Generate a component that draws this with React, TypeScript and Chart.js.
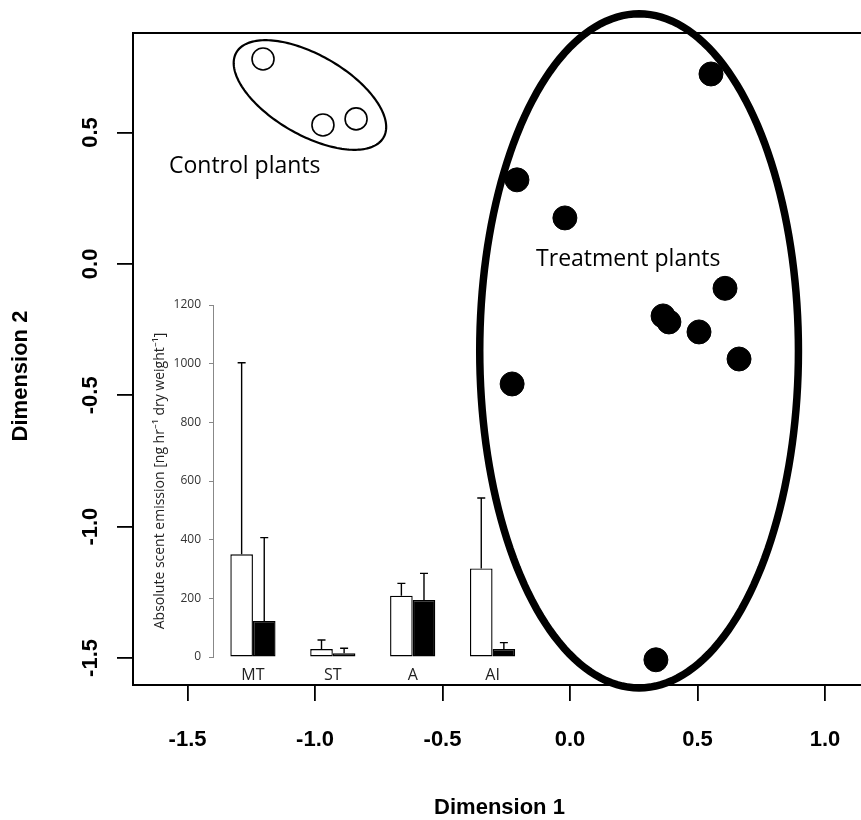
import React, { useEffect, useRef } from 'react';
import { Chart, registerables } from 'chart.js';

Chart.register(...registerables);

// ---------- NMDS scatter data ----------
const controlX = [-1.204, -0.969, -0.839];
const controlY = [0.78, 0.529, 0.552];
const treatX = [0.553, -0.208, -0.02, 0.608, 0.365, 0.388, 0.506, 0.663, -0.227, 0.337];
const treatY = [0.723, 0.32, 0.175, -0.093, -0.198, -0.221, -0.259, -0.362, -0.457, -1.507];

const xTicks = [-1.5, -1.0, -0.5, 0.0, 0.5, 1.0];
const yTicks = [-1.5, -1.0, -0.5, 0.0, 0.5];
const xRange = [-1.714, 1.161];
const yRange = [-1.603, 0.879];
const xTitle = 'Dimension 1';
const yTitle = 'Dimension 2';

// group annotations (data units)
const groupLabels = ['Control plants', 'Treatment plants'];
const groupLabelX = [-1.573, -0.133];
const groupLabelY = [0.345, -0.009];

// group ellipses: centre and two conjugate semi-axis vectors (data units)
const ellipseCx = [-1.02, 0.271];
const ellipseCy = [0.643, -0.331];
const ellipseUx = [0.2886, 0.625];
const ellipseUy = [-0.1618, 0];
const ellipseVx = [-0.0784, 0];
const ellipseVy = [-0.1317, 1.283];

// ---------- inset bar chart data ----------
const scentCategories = ['MT', 'ST', 'A', 'AI'];
const controlMean = [350, 27, 209, 302];
const controlUpper = [1003, 58, 251, 542];
const treatMean = [123, 13, 194, 27];
const treatUpper = [407, 30, 285, 49];
const scentMax = 1200;
const scentStep = 200;
const scentTitle = 'Absolute scent emission [ng hr\u207B\u00B9 dry weight\u207B\u00B9]';

const BOLD = { family: 'Liberation Sans', size: 22, weight: 'bold' as const };

const mainPlugin = {
  id: 'mainDecor',
  afterDatasetsDraw(chart: any) {
    const { ctx, chartArea, scales } = chart;
    const xs = scales.x;
    const ys = scales.y;
    ctx.save();
    // frame
    ctx.strokeStyle = '#000';
    ctx.lineWidth = 2;
    ctx.strokeRect(chartArea.left, chartArea.top, chartArea.right - chartArea.left, chartArea.bottom - chartArea.top);
    // ellipses
    const widths = [2.2, 7.5];
    for (let e = 0; e < ellipseCx.length; e++) {
      ctx.beginPath();
      const n = 180;
      for (let k = 0; k <= n; k++) {
        const t = (k / n) * Math.PI * 2;
        const dx = ellipseCx[e] + ellipseUx[e] * Math.cos(t) + ellipseVx[e] * Math.sin(t);
        const dy = ellipseCy[e] + ellipseUy[e] * Math.cos(t) + ellipseVy[e] * Math.sin(t);
        const px = xs.getPixelForValue(dx);
        const py = ys.getPixelForValue(dy);
        if (k === 0) ctx.moveTo(px, py);
        else ctx.lineTo(px, py);
      }
      ctx.closePath();
      ctx.lineWidth = widths[e];
      ctx.strokeStyle = '#000';
      ctx.stroke();
    }
    // group labels
    ctx.fillStyle = '#000';
    ctx.font = '23px "Open Sans"';
    ctx.textAlign = 'left';
    ctx.textBaseline = 'alphabetic';
    for (let i = 0; i < groupLabels.length; i++) {
      ctx.fillText(groupLabels[i], xs.getPixelForValue(groupLabelX[i]), ys.getPixelForValue(groupLabelY[i]));
    }
    // y tick labels (rotated, R style)
    ctx.font = 'bold 22px "Liberation Sans"';
    ctx.textAlign = 'center';
    for (const v of yTicks) {
      const py = ys.getPixelForValue(v);
      ctx.save();
      ctx.translate(chartArea.left - 36, py);
      ctx.rotate(-Math.PI / 2);
      ctx.fillText(v.toFixed(1), 0, 0);
      ctx.restore();
    }
    // y title
    ctx.save();
    ctx.translate(27, (chartArea.top + chartArea.bottom) / 2 + 17);
    ctx.rotate(-Math.PI / 2);
    ctx.fillText(yTitle, 0, 0);
    ctx.restore();
    ctx.restore();
  },
};

const errorBarPlugin = {
  id: 'errorBars',
  afterDatasetsDraw(chart: any) {
    const { ctx, scales } = chart;
    const uppers = [controlUpper, treatUpper];
    ctx.save();
    ctx.strokeStyle = '#000';
    ctx.lineWidth = 1.4;
    chart.data.datasets.forEach((_: any, i: number) => {
      const meta = chart.getDatasetMeta(i);
      meta.data.forEach((el: any, j: number) => {
        const yTop = el.y;
        const yErr = scales.y.getPixelForValue(uppers[i][j]);
        ctx.beginPath();
        ctx.moveTo(el.x, yTop);
        ctx.lineTo(el.x, yErr);
        ctx.moveTo(el.x - 4, yErr);
        ctx.lineTo(el.x + 4, yErr);
        ctx.stroke();
      });
    });
    ctx.restore();
  },
};

function MainChart() {
  const ref = useRef<HTMLCanvasElement>(null);
  useEffect(() => {
    if (!ref.current) return;
    const chart = new Chart(ref.current, {
      type: 'scatter',
      data: {
        datasets: [
          {
            label: 'Control plants',
            data: controlX.map((x, i) => ({ x, y: controlY[i] })),
            pointRadius: 11,
            pointHoverRadius: 11,
            pointBackgroundColor: '#fff',
            pointBorderColor: '#000',
            pointBorderWidth: 1.6,
          },
          {
            label: 'Treatment plants',
            data: treatX.map((x, i) => ({ x, y: treatY[i] })),
            pointRadius: 12,
            pointHoverRadius: 12,
            pointBackgroundColor: '#000',
            pointBorderColor: '#000',
            pointBorderWidth: 1,
          },
        ],
      },
      options: {
        animation: false,
        responsive: false,
        events: [],
        layout: { autoPadding: false, padding: { top: 33, right: 4, left: 0, bottom: 0 } },
        plugins: { legend: { display: false }, tooltip: { enabled: false } },
        scales: {
          x: {
            type: 'linear',
            min: xRange[0],
            max: xRange[1],
            afterBuildTicks: (s: any) => {
              s.ticks = xTicks.map((v) => ({ value: v }));
            },
            afterFit: (s: any) => {
              s.height = 137;
              s.paddingLeft = 0;
              s.paddingRight = 0;
            },
            grid: { drawOnChartArea: false, drawTicks: true, tickLength: 16, color: '#000', lineWidth: 1.8 },
            border: { display: false },
            ticks: {
              font: BOLD,
              color: '#000',
              padding: 26,
              maxRotation: 0,
              autoSkip: false,
              callback: (v: any) => Number(v).toFixed(1),
            },
            title: { display: true, text: xTitle, font: BOLD, color: '#000', padding: { top: 0, bottom: 1 } },
          },
          y: {
            type: 'linear',
            min: yRange[0],
            max: yRange[1],
            afterBuildTicks: (s: any) => {
              s.ticks = yTicks.map((v) => ({ value: v }));
            },
            afterFit: (s: any) => {
              s.width = 133;
              s.paddingTop = 0;
              s.paddingBottom = 0;
            },
            grid: { drawOnChartArea: false, drawTicks: true, tickLength: 16, color: '#000', lineWidth: 1.8 },
            border: { display: false },
            ticks: { display: false },
            title: { display: false },
          },
        },
      },
      plugins: [mainPlugin],
    } as any);
    return () => chart.destroy();
  }, []);
  return <canvas ref={ref} width={870} height={822} style={{ display: 'block' }} />;
}

function InsetChart() {
  const ref = useRef<HTMLCanvasElement>(null);
  useEffect(() => {
    if (!ref.current) return;
    const chart = new Chart(ref.current, {
      type: 'bar',
      data: {
        labels: scentCategories,
        datasets: [
          {
            label: 'Control',
            data: controlMean,
            backgroundColor: '#fff',
            borderColor: '#000',
            borderWidth: 1.4,
            borderSkipped: false,
          },
          {
            label: 'Treatment',
            data: treatMean,
            backgroundColor: '#000',
            borderColor: '#000',
            borderWidth: 1.4,
            borderSkipped: false,
          },
        ],
      },
      options: {
        animation: false,
        responsive: false,
        events: [],
        layout: { autoPadding: false, padding: { top: 15, right: 7.5, left: 0, bottom: 0 } },
        plugins: { legend: { display: false }, tooltip: { enabled: false } },
        datasets: { bar: { categoryPercentage: 0.566, barPercentage: 1 } },
        scales: {
          x: {
            afterFit: (s: any) => {
              s.height = 33;
              s.paddingLeft = 0;
              s.paddingRight = 0;
            },
            grid: { display: false, drawTicks: false, tickLength: 0 },
            border: { display: false },
            ticks: { font: { family: 'Open Sans', size: 16 }, color: '#222', padding: 9 },
          },
          y: {
            min: 0,
            max: scentMax,
            afterFit: (s: any) => {
              s.width = 73;
              s.paddingTop = 0;
              s.paddingBottom = 0;
            },
            ticks: {
              stepSize: scentStep,
              font: { family: 'Open Sans', size: 12 },
              color: '#333',
              padding: 8,
              callback: (v: any) => String(v),
            },
            grid: { drawOnChartArea: false, drawTicks: true, tickLength: 4, color: '#888', lineWidth: 1 },
            border: { display: true, color: '#888', width: 1 },
            title: {
              display: true,
              text: scentTitle,
              font: { family: 'Open Sans', size: 14 },
              color: '#222',
              padding: { top: 12, bottom: 0 },
            },
          },
        },
      },
      plugins: [errorBarPlugin],
    } as any);
    return () => chart.destroy();
  }, []);
  return <canvas ref={ref} width={400} height={400} style={{ display: 'block' }} />;
}

export default function App() {
  return (
    <div
      style={{
        position: 'absolute',
        left: 0,
        top: 0,
        width: 861,
        height: 820,
        overflow: 'hidden',
        background: '#fff',
      }}
    >
      <div style={{ position: 'absolute', left: 0, top: 0 }}>
        <MainChart />
      </div>
      <div style={{ position: 'absolute', left: 140, top: 290 }}>
        <InsetChart />
      </div>
    </div>
  );
}
